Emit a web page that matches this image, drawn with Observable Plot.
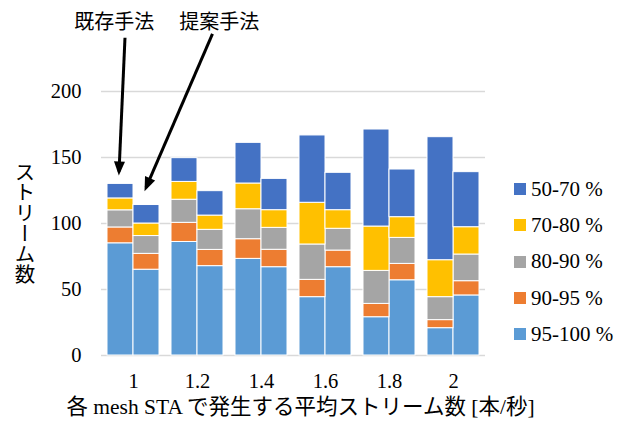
<!DOCTYPE html>
<html><head><meta charset="utf-8">
<script src="https://cdn.jsdelivr.net/npm/d3@7"></script>
<script src="https://cdn.jsdelivr.net/npm/@observablehq/plot@0.6"></script>
<style>
html,body{margin:0;padding:0;background:#fff;}
#chart{position:relative;width:627px;height:425px;font-family:"Liberation Serif","Noto Sans CJK JP",serif;}
#legend{position:absolute;left:514px;top:171px;font-size:21px;color:#000;font-family:"Liberation Serif","Noto Sans CJK JP",serif;}
#legend .item{display:flex;align-items:center;height:36.3px;white-space:nowrap;}
#legend .sw{width:12px;height:12px;margin-right:5px;flex:none;}
</style></head><body><div id="chart"></div>
<script>
const groups = ["1","1.2","1.4","1.6","1.8","2"];
const methods = ["既存手法","提案手法"];
const bands = ["95-100 %","90-95 %","80-90 %","70-80 %","50-70 %"];
const legendOrder = ["50-70 %","70-80 %","80-90 %","90-95 %","95-100 %"];
const colors = ["#4472C4","#FFC000","#A5A5A5","#ED7D31","#5B9BD5"];
// values, pairs per group: [既存, 提案]
const v95_100 = [85,65, 86,67.7, 73.2,66.9, 44.2,66.9, 29,57, 20.7,45.5];
const v90_95  = [12,12, 14.5,12.3, 14.9,13.2, 13.1,12.6, 10.1,12.4, 6.1,10.8];
const v80_90  = [13,13.5, 17.5,15.2, 22.7,16.6, 26.8,16.5, 25,19.7, 17.4,20.2];
const v70_80  = [9,9.5, 13.5,10.8, 19.5,13.4, 31.6,14.1, 33.6,15.7, 28,20.7];
const v50_70  = [11,14, 18,18.5, 30.8,23.7, 51,28.3, 73.5,36.1, 93.2,41.7];
const yTicks = [0,50,100,150,200];
const xTitle = "各 mesh STA で発生する平均ストリーム数 [本/秒]";
const yTitle = "ストリーム数";
const notes = [
  {x: -0.3, y: 252.5, text: "既存手法"},
  {x: 1.34, y: 252.5, text: "提案手法"}
];
const arrows = [
  {x1: -0.133, y1: 240.7, x2: -0.226, y2: 139.4},
  {x1: 1.234, y1: 243.7, x2: 0.197, y2: 127.3}
];

const series = [v95_100, v90_95, v80_90, v70_80, v50_70];
const table = [];
bands.forEach((b, bi) => {
  series[bi].forEach((v, k) => {
    table.push({band: b, g: Math.floor(k / 2), m: k % 2, method: methods[k % 2], value: v});
  });
});

const barW = 26 / 64;
const font = '"Liberation Serif","Noto Sans CJK JP",serif';

const svg = Plot.plot({
  width: 627,
  height: 425,
  marginLeft: 101,
  marginRight: 142,
  marginTop: 91,
  marginBottom: 70,
  style: {fontFamily: font, fontSize: "20.5px", color: "#000", background: "white", overflow: "visible"},
  x: {domain: [-0.5, 5.5], ticks: d3.range(groups.length), tickFormat: i => groups[i], tickSize: 0, tickPadding: 18, label: null},
  y: {domain: [0, 200], ticks: yTicks, tickSize: 0, tickPadding: 20, label: null},
  color: {domain: legendOrder, range: colors},
  marks: [
    Plot.ruleY(yTicks, {stroke: "#d9d9d9", strokeWidth: 1.3}),
    Plot.rectY(table, {
      x1: d => d.g - (d.m === 0 ? barW : 0),
      x2: d => d.g + (d.m === 1 ? barW : 0),
      y: "value",
      fill: "band",
      order: bands,
      stroke: "white",
      strokeWidth: 1
    }),
    Plot.link(arrows, {x1: "x1", y1: "y1", x2: "x2", y2: "y2", stroke: "black", strokeWidth: 3, markerEnd: "arrow"}),
    Plot.text(notes, {x: "x", y: "y", text: "text", fontSize: 20}),
    Plot.text([xTitle], {frameAnchor: "bottom", text: d => d, dy: 58, dx: 7, fontSize: 21.5})
  ]
});

d3.select(svg).selectAll("marker").each(function() {
  const m = d3.select(this);
  m.attr("viewBox", "-14 -6 20 12").attr("markerWidth", 20).attr("markerHeight", 12)
   .attr("markerUnits", "userSpaceOnUse").attr("fill", "black").attr("stroke", "none");
  m.selectAll("*").remove();
  m.append("path").attr("d", "M-10,-5.5L4,0L-10,5.5Z");
});

d3.select(svg).append("text")
  .attr("x", 23).attr("y", 223)
  .attr("text-anchor", "middle")
  .attr("font-size", 20.5)
  .style("writing-mode", "vertical-rl")
  .attr("fill", "black")
  .text(yTitle);

const chart = document.getElementById("chart");
chart.appendChild(svg);

const colorScale = Plot.scale({color: {domain: legendOrder, range: colors}});
const legend = document.createElement("div");
legend.id = "legend";
legendOrder.forEach(b => {
  const item = document.createElement("div");
  item.className = "item";
  const sw = document.createElement("span");
  sw.className = "sw";
  sw.style.background = colorScale.apply(b);
  const t = document.createElement("span");
  t.textContent = b;
  item.appendChild(sw);
  item.appendChild(t);
  legend.appendChild(item);
});
chart.appendChild(legend);
</script>
</body></html>
